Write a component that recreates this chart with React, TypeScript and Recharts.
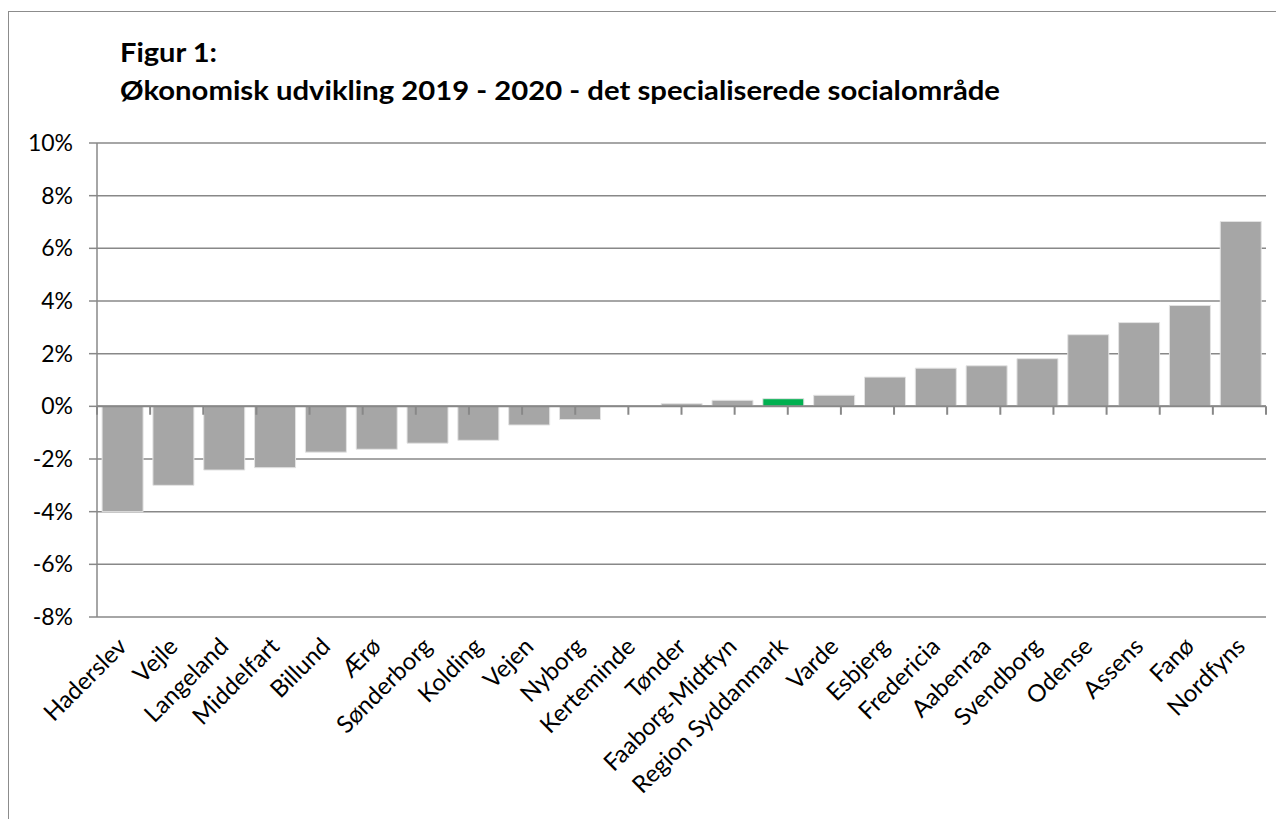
import React from 'react';
import { BarChart, Bar, Cell, XAxis, YAxis, CartesianGrid, ReferenceLine } from 'recharts';

// Økonomisk udvikling 2019-2020, specialiserede socialområde (pct.)
const municipalities = [
  'Haderslev', 'Vejle', 'Langeland', 'Middelfart', 'Billund', 'Ærø', 'Sønderborg',
  'Kolding', 'Vejen', 'Nyborg', 'Kerteminde', 'Tønder', 'Faaborg-Midtfyn',
  'Region Syddanmark', 'Varde', 'Esbjerg', 'Fredericia', 'Aabenraa', 'Svendborg',
  'Odense', 'Assens', 'Fanø', 'Nordfyns',
];
const changePct = [
  -4.0, -3.0, -2.42, -2.33, -1.74, -1.63, -1.4,
  -1.29, -0.71, -0.5, 0, 0.1, 0.23,
  0.29, 0.42, 1.11, 1.45, 1.54, 1.81,
  2.72, 3.18, 3.83, 7.02,
];
const yTicks = [-8, -6, -4, -2, 0, 2, 4, 6, 8, 10];
const highlighted = 'Region Syddanmark';

const data = municipalities.map((name, i) => ({ name, value: changePct[i] }));
// category borders (0..n) for the small tick marks hanging under the 0% line
const borders = Array.from({ length: municipalities.length + 1 }, (_, i) => i);

const GREY = '#a6a6a6';
const GREEN = '#00b050';
const LINE = '#888888';
const FONT = 'Lato, "Open Sans", sans-serif';

const CategoryTick = (props: any) => {
  const { x, y, payload } = props;
  return (
    <g transform={`translate(${x},${y + 23})`}>
      <text transform="rotate(-45)" textAnchor="end" dy="0.35em" fontSize={24} fontFamily={FONT} fill="#000">
        {payload.value}
      </text>
    </g>
  );
};

export default function App() {
  return (
    <div
      style={{
        position: 'relative',
        top: 3,
        left: 0,
        width: 1276,
        height: 811,
        borderTop: '1px solid #8c8c8c',
        borderLeft: '1px solid #8c8c8c',
        background: '#fff',
        boxSizing: 'border-box',
      }}
    >
      <svg width={1100} height={110} style={{ position: 'absolute', left: 0, top: 0 }}>
        <text x={111} y={50} fontFamily={FONT} fontWeight="bold" fontSize={26} fill="#000"
          textLength={97} lengthAdjust="spacingAndGlyphs">
          Figur 1:
        </text>
        <text x={111} y={88} fontFamily={FONT} fontWeight="bold" fontSize={26} fill="#000"
          textLength={880} lengthAdjust="spacingAndGlyphs">
          Økonomisk udvikling 2019 - 2020 - det specialiserede socialområde
        </text>
      </svg>
      <div style={{ position: 'absolute', left: 0, top: 0 }}>
        <BarChart
          width={1273}
          height={810}
          data={data}
          margin={{ top: 131, right: 16, bottom: 5, left: 0 }}
          barCategoryGap="10%"
        >
          <CartesianGrid vertical={false} stroke={LINE} strokeWidth={1.5} />
          <XAxis
            dataKey="name"
            interval={0}
            height={200}
            axisLine={false}
            tickLine={false}
            tickSize={0}
            tick={<CategoryTick />}
          />
          <XAxis xAxisId="borders" type="number" domain={[0, municipalities.length]} hide />
          <YAxis
            width={88}
            domain={[-8, 10]}
            ticks={yTicks}
            interval={0}
            tickFormatter={(v: number) => `${v}%`}
            axisLine={{ stroke: LINE, strokeWidth: 1.5 }}
            tickLine={{ stroke: LINE, strokeWidth: 1.5 }}
            tickSize={8}
            tickMargin={16}
            tick={{ fontSize: 23, fontFamily: FONT, fill: '#000' }}
          />
          <Bar dataKey="value" isAnimationActive={false} stroke="#e3e3e3" strokeWidth={1}>
            {data.map((d) => (
              <Cell key={d.name} fill={d.name === highlighted ? GREEN : GREY} />
            ))}
          </Bar>
          <ReferenceLine y={0} stroke={LINE} strokeWidth={2} />
          {borders.map((b) => (
            <ReferenceLine
              key={b}
              xAxisId="borders"
              ifOverflow="visible"
              segment={[{ x: b, y: 0 }, { x: b, y: -0.32 }]}
              stroke={LINE}
              strokeWidth={2}
            />
          ))}
        </BarChart>
      </div>
    </div>
  );
}
